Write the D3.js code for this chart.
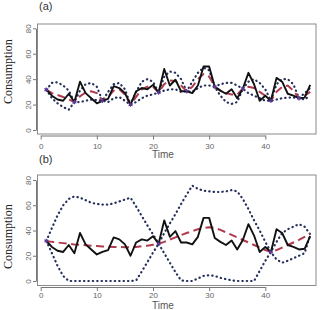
<!DOCTYPE html>
<html>
<head>
<meta charset="utf-8">
<script src="https://cdn.jsdelivr.net/npm/d3@7"></script>
<style>
  body { margin: 0; background: #fff; }
  svg { display: block; }
</style>
</head>
<body>
<svg width="322" height="310"></svg>
<script>
// time index and observed consumption (same in both panels)
const time = d3.range(1, 49)
const consumption = [31.7, 27, 24, 23, 28.5, 22, 38, 29, 25, 21, 23, 24.5, 34.5, 33, 29, 20,
  30.5, 33, 32, 35.5, 29.5, 48, 35, 39.5, 30.5, 30.5, 29, 35, 50, 50, 34, 31, 28.5, 32, 25,
  32.5, 45, 36, 23, 27, 23, 41, 38, 28.5, 27, 25, 25.5, 35.5]

// panel (a): 5-step forecasts and bands
const forecastA = [31.7, 29, 27.5, 26, 24, 22, 26.5, 29.5, 30.5, 29, 23, 26, 31, 32, 28, 20,
  26, 32, 34, 34, 29.5, 36, 39, 38.5, 35, 30.5, 34, 40, 44, 42, 34, 31, 29, 28, 28, 32.5,
  34, 33, 30, 27, 23, 30, 34, 35, 31, 25, 27, 30]
const upperA = [31.7, 37, 37.5, 35, 31, 22, 31, 36, 37, 34, 23, 30, 36, 37, 32, 20,
  30, 38, 40, 38, 29.5, 42, 46, 45, 40, 30.5, 38, 45, 49, 47, 34, 36, 37, 37, 35, 32.5,
  38, 40, 37, 32, 23, 36, 40, 40, 36, 25, 29, 33]
const lowerA = [31.7, 25, 21, 18, 16, 22, 22, 23, 24, 23.5, 23, 22, 25, 26, 23, 20,
  22, 25, 27, 28, 29.5, 31, 32, 32, 30, 30.5, 30, 33, 35, 35, 34, 27, 22, 20.5, 22, 32.5,
  29, 27, 25, 23, 23, 24, 25, 25.5, 25.5, 25, 24, 27]
const knotsA = [1, 6, 11, 16, 21, 26, 31, 36, 41, 46]

// panel (b): 20-step forecasts and bands
const forecastB = [31.7, 31, 30.5, 30, 29.5, 29, 28.7, 28.3, 28, 27.7, 27.4, 27.2, 27, 26.9,
  26.8, 26.8, 27, 27.5, 28, 28.7, 29.5, 31, 32.8, 34.6, 36.4, 38, 39.5, 41, 42, 42.5, 42,
  40.5, 38.5, 36.5, 34.5, 32.5, 30.5, 28.5, 26.5, 24.5, 23, 24.5, 26.5, 28.5, 30.5, 32.5, 35, 37.5]
const bandB1 = [31.7, 42, 52, 60, 65, 67, 66, 64, 62, 61, 60.5, 60.5, 61.5, 63, 64.5, 66,
  59, 51.5, 44, 37, 29.5, 22, 14.5, 7, 0.5, 0, 0, 2, 4, 4.5, 4, 2.5, 1.5, 0.5, 0, 0, 0, 0,
  8, 16, 23, 31, 38, 41, 43, 45, 43, 37]
const bandB2 = [31.7, 22, 12, 4, 0, 0, 0, 0, 0, 0, 0, 0, 0, 0, 0, 0,
  0.5, 7.6, 15, 22.5, 29.5, 38, 45.6, 53, 61, 68.5, 75.5, 73, 71.5, 71, 70.5, 70.5, 71, 72, 71,
  65, 57, 48, 40, 31, 23, 17, 14.5, 16, 18, 20, 22, 36.5]
const knotsB = [1, 21, 41]

const xTicks = [0, 10, 20, 30, 40]
const yTicks = [0, 20, 40, 60, 80]

const svg = d3.select("svg")

const x = d3.scaleLinear().domain([0, 40]).range([40.7, 265.3])

function drawPanel(p) {
  const y = d3.scaleLinear().domain([0, 80]).range(p.yRange)
  const g = svg.append("g")

  // box
  g.append("rect")
    .attr("x", 37.5).attr("y", p.boxTop)
    .attr("width", 278.5).attr("height", p.boxBottom - p.boxTop)
    .attr("fill", "none").attr("stroke", "#8a8a8a").attr("stroke-width", 1)

  // x axis
  const xa = g.append("g")
    .attr("transform", "translate(0," + p.xAxisY + ")")
    .call(d3.axisBottom(x).tickValues(xTicks).tickSize(4).tickSizeOuter(0))
  xa.selectAll("line,path").attr("stroke", "#777")
  xa.selectAll("text")
    .attr("y", p.xLabelDy).attr("dy", null)
    .style("font", "8px 'Liberation Sans', Arial, sans-serif")
    .attr("fill", "#666")

  // y axis with rotated labels (R style)
  const ya = g.append("g")
    .attr("transform", "translate(36,0)")
    .call(d3.axisLeft(y).tickValues(yTicks).tickSize(3).tickSizeOuter(0))
  ya.selectAll("line,path").attr("stroke", "#777")
  ya.selectAll("text")
    .attr("x", null).attr("dy", null)
    .attr("text-anchor", "middle")
    .attr("transform", "translate(-5,0) rotate(-90)")
    .style("font", "8px 'Liberation Sans', Arial, sans-serif")
    .attr("fill", "#666")

  // labels
  g.append("text")
    .attr("x", 39).attr("y", p.titleY)
    .style("font", "11px 'Liberation Sans', Arial, sans-serif")
    .attr("fill", "#333")
    .text(p.title)
  g.append("text")
    .attr("x", 163).attr("y", p.timeY)
    .attr("text-anchor", "middle")
    .style("font", "10px 'Liberation Sans', Arial, sans-serif")
    .attr("fill", "#555")
    .text("Time")
  g.append("text")
    .attr("transform", "translate(12," + p.consY + ") rotate(-90)")
    .attr("text-anchor", "middle")
    .style("font", "12px 'Liberation Serif', 'Times New Roman', serif")
    .attr("fill", "#222")
    .text("Consumption")

  const line = d3.line()
    .x((d, i) => x(time[i]))
    .y(d => y(d))

  // dotted bands
  p.bands.forEach(b => {
    g.append("path")
      .datum(b)
      .attr("fill", "none")
      .attr("stroke", "#26305c")
      .attr("stroke-width", 2.2)
      .attr("stroke-linecap", "round")
      .attr("stroke-dasharray", "0.4 4")
      .attr("d", line)
  })

  // forecast
  g.append("path")
    .datum(p.forecast)
    .attr("fill", "none")
    .attr("stroke", "#b03a4e")
    .attr("stroke-width", 2)
    .attr("stroke-dasharray", "8 4.5")
    .attr("d", line)

  // observed
  g.append("path")
    .datum(consumption)
    .attr("fill", "none")
    .attr("stroke", "#111")
    .attr("stroke-width", 1.9)
    .attr("stroke-linejoin", "round")
    .attr("d", line)

  // knots
  const sym = d3.symbol().type(d3.symbolAsterisk || d3.symbolCross).size(14)
  g.selectAll(".knot")
    .data(p.knots)
    .join("path")
    .attr("class", "knot")
    .attr("transform", t => "translate(" + x(t) + "," + y(consumption[t - 1]) + ")")
    .attr("d", sym)
    .attr("fill", "none")
    .attr("stroke", "#5a3a9a")
    .attr("stroke-width", 1.1)
}

drawPanel({
  title: "(a)", titleY: 10,
  boxTop: 24, boxBottom: 134, yRange: [130, 28.3],
  xAxisY: 135.5, xLabelDy: 13, timeY: 158, consY: 71.7,
  forecast: forecastA, bands: [upperA, lowerA], knots: knotsA
})

drawPanel({
  title: "(b)", titleY: 163,
  boxTop: 175, boxBottom: 285.5, yRange: [281, 180],
  xAxisY: 287, xLabelDy: 10.5, timeY: 308.5, consY: 236.7,
  forecast: forecastB, bands: [bandB1, bandB2], knots: knotsB
})
</script>
</body>
</html>
